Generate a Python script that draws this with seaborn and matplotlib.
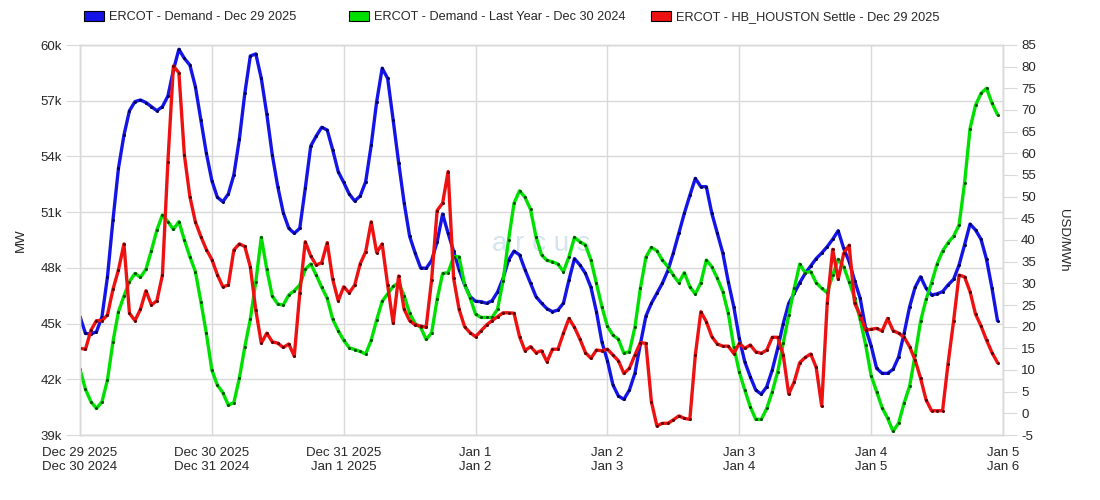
import pandas as pd
import matplotlib.pyplot as plt
from matplotlib.patches import Patch
import seaborn as sns

# hourly values, Dec 29 2025 00:00 .. Jan 4 23:00
demand_mw = [
    45.37, 44.47, 44.44, 44.56, 45.37, 47.52, 50.58, 53.36, 55.15, 56.46, 56.95, 57.04,
    56.90, 56.68, 56.46, 56.68, 57.25, 58.65, 59.77, 59.28, 58.92, 57.76, 55.96, 54.17,
    52.70, 51.80, 51.56, 51.98, 53.00, 54.92, 57.40, 59.41, 59.52, 58.20, 56.28, 54.08,
    52.37, 50.97, 50.13, 49.86, 50.13, 52.28, 54.56, 55.10, 55.57, 55.42, 54.35, 53.18,
    52.60, 51.98, 51.60, 51.87, 52.64, 54.60, 56.95, 58.75, 58.20, 55.96, 53.66, 51.50,
    49.70, 48.80, 48.00, 47.97, 48.40, 49.40, 50.90, 49.86, 48.90, 47.90, 47.10, 46.45,
    46.20, 46.18, 46.09, 46.23, 46.70, 47.43, 48.42, 48.90, 48.70, 47.90, 47.17, 46.45,
    46.10, 45.80, 45.64, 45.73, 46.10, 47.35, 48.50, 48.15, 47.70, 46.95, 45.64, 44.00,
    43.00, 41.70, 41.10, 40.92, 41.42, 42.32, 43.90, 45.40, 46.09, 46.63, 47.17, 47.85,
    48.80, 49.86, 50.94, 51.90, 52.82, 52.37, 52.37, 50.94, 49.86, 48.80, 47.25, 45.90,
    44.20, 42.94, 42.14, 41.42, 41.20, 41.60, 42.50, 43.67, 45.00, 46.09, 46.63, 47.20,
    47.70, 48.10, 48.50, 48.80, 49.14, 49.54, 50.00, 49.05, 48.33, 47.30, 46.36, 44.74,
    43.80, 42.59, 42.32, 42.32, 42.54, 43.20, 44.47, 45.90, 46.95, 47.52, 46.90, 46.54,
    46.60, 46.72, 47.08, 47.38, 48.15, 49.23, 50.36, 50.04, 49.54, 48.46, 46.90, 45.15,
]

demand_last_year_mw = [
    42.53, 41.46, 40.79, 40.43, 40.79, 41.96, 44.02, 45.64, 46.48, 47.26, 47.70, 47.49,
    47.92, 48.93, 50.04, 50.85, 50.49, 50.07, 50.49, 49.50, 48.60, 47.80, 46.18, 44.47,
    42.50, 41.69, 41.28, 40.61, 40.74, 42.05, 43.75, 45.23, 47.26, 49.64, 47.92, 46.48,
    46.05, 46.00, 46.54, 46.77, 47.08, 47.92, 48.21, 47.61, 46.95, 46.36, 45.23, 44.62,
    44.10, 43.70, 43.60, 43.50, 43.36, 44.10, 45.20, 46.20, 46.60, 47.00, 47.20, 46.50,
    45.55, 45.00, 44.80, 44.15, 44.50, 46.30, 47.70, 47.74, 48.60, 48.60, 47.10, 46.40,
    45.50, 45.33, 45.33, 45.33, 45.77, 47.30, 49.50, 51.48, 52.15, 51.80, 51.15, 49.68,
    48.70, 48.40, 48.33, 48.20, 47.80, 48.60, 49.64, 49.40, 49.23, 48.42, 47.17, 45.90,
    44.85, 44.38, 44.15, 43.40, 43.49, 44.80, 46.90, 48.57, 49.10, 48.92, 48.42, 48.06,
    47.60, 47.20, 47.74, 46.98, 46.59, 47.20, 48.42, 48.06, 47.44, 46.72, 45.55, 43.75,
    42.40, 41.42, 40.52, 39.84, 39.84, 40.43, 41.33, 42.41, 43.94, 45.46, 46.90, 48.20,
    47.74, 47.80, 47.20, 46.90, 46.66, 47.60, 48.46, 48.06, 47.25, 46.36, 45.23, 43.85,
    42.20, 41.33, 40.47, 39.90, 39.20, 39.64, 40.72, 41.62, 43.30, 45.13, 46.30, 47.20,
    48.20, 48.90, 49.35, 49.70, 50.30, 52.55, 55.50, 56.75, 57.40, 57.67, 56.87, 56.25,
]

hb_houston_usd = [
    15.0, 14.8, 19.2, 21.4, 21.4, 22.7, 28.6, 33.1, 39.1, 23.1, 21.4, 24.0,
    28.3, 25.0, 26.0, 31.9, 58.1, 80.15, 78.6, 59.6, 50.0, 44.2, 40.8, 37.8,
    35.5, 32.0, 29.2, 29.6, 37.7, 39.1, 38.5, 33.8, 23.8, 16.2, 18.5, 16.5,
    16.2, 15.2, 16.0, 13.2, 27.7, 39.6, 36.3, 34.2, 34.8, 39.4, 30.9, 26.0,
    29.2, 27.8, 29.6, 34.5, 37.3, 44.2, 37.1, 39.1, 29.6, 20.8, 31.7, 24.0,
    21.4, 20.4, 20.15, 19.85, 30.8, 46.8, 48.5, 55.8, 31.2, 24.0, 20.0, 18.6,
    17.7, 19.06, 20.4, 21.4, 22.3, 23.2, 23.2, 23.1, 17.7, 14.45, 15.4, 14.0,
    14.45, 11.9, 14.8, 14.8, 18.5, 21.9, 19.85, 17.1, 14.0, 12.7, 14.6, 14.45,
    14.8, 13.45, 12.14, 9.2, 10.4, 13.45, 16.3, 16.15, 2.7, -2.9, -2.3, -2.3,
    -1.5, -0.6, -1.15, -1.4, 13.45, 23.45, 21.15, 17.7, 16.0, 15.5, 15.5, 13.8,
    16.15, 15.0, 15.77, 14.2, 13.85, 14.6, 17.55, 17.55, 13.46, 4.45, 7.3, 11.7,
    12.9, 13.7, 10.6, 1.7, 25.4, 37.85, 30.9, 36.9, 38.8, 25.4, 22.7, 19.2,
    19.4, 19.6, 19.0, 21.9, 19.07, 18.5, 17.55, 15.4, 12.3, 8.1, 3.1, 0.6,
    0.6, 0.6, 11.5, 21.2, 31.9, 31.5, 28.1, 22.9, 20.15, 16.9, 14.0, 11.7,
]

day_labels = [
    "Dec 29 2025\nDec 30 2024", "Dec 30 2025\nDec 31 2024", "Dec 31 2025\nJan 1 2025",
    "Jan 1\nJan 2", "Jan 2\nJan 3", "Jan 3\nJan 4", "Jan 4\nJan 5", "Jan 5\nJan 6",
]
mw_ticks = [39, 42, 45, 48, 51, 54, 57, 60]
usd_ticks = list(range(-5, 90, 5))

legend_names = [
    "ERCOT - Demand - Dec 29 2025",
    "ERCOT - Demand - Last Year - Dec 30 2024",
    "ERCOT - HB_HOUSTON Settle - Dec 29 2025",
]
colors = ["#1414e6", "#00e000", "#ee1111"]
dots = ["#000060", "#005000", "#600000"]

df = pd.DataFrame({
    "time": pd.date_range("2025-12-29", periods=len(demand_mw), freq="h"),
    "demand": [v * 1000 for v in demand_mw],
    "last_year": [v * 1000 for v in demand_last_year_mw],
    "price": hb_houston_usd,
})
days = pd.date_range("2025-12-29", periods=8, freq="D")

sns.set_style("white")
plt.rcParams["font.family"] = ["Liberation Sans", "DejaVu Sans"]
plt.rcParams["axes.unicode_minus"] = False
grid_c = "#d9d9d9"
fs = 9.5

fig = plt.figure(figsize=(11, 5), dpi=100)
ax = fig.add_axes([80 / 1100, 65 / 500, 923 / 1100, 390 / 500])
ax2 = ax.twinx()

line_kw = dict(linewidth=2.4, marker="o", markersize=2.2, markeredgewidth=0, legend=False)
sns.lineplot(data=df, x="time", y="demand", ax=ax, color=colors[0],
             markerfacecolor=dots[0], **line_kw)
sns.lineplot(data=df, x="time", y="last_year", ax=ax, color=colors[1],
             markerfacecolor=dots[1], **line_kw)
sns.lineplot(data=df, x="time", y="price", ax=ax2, color=colors[2],
             markerfacecolor=dots[2], **line_kw)

# left axis
ax.set_xlim(days[0], days[-1])
ax.set_ylim(39000, 60000)
ax.set_yticks([t * 1000 for t in mw_ticks])
ax.set_yticklabels([f"{t}k" for t in mw_ticks])
ax.set_xticks(days)
ax.set_xticklabels(day_labels, linespacing=1.22)
ax.grid(True, color=grid_c, linewidth=1)
ax.set_axisbelow(True)
ax.set_xlabel("")
ax.set_ylabel("MW", fontsize=fs, labelpad=10)
ax.tick_params(axis="y", length=10, color=grid_c, labelsize=fs, pad=3)
ax.tick_params(axis="x", length=5, color=grid_c, labelsize=fs, pad=4)

# right axis
ax2.set_ylim(-5, 85)
ax2.set_yticks(usd_ticks)
ax2.set_ylabel("USD/MWh", rotation=270, fontsize=fs, labelpad=24)
ax2.tick_params(axis="y", length=10, color=grid_c, labelsize=fs, pad=3)
ax2.grid(False)

for a in (ax, ax2):
    for s in a.spines.values():
        s.set_color(grid_c)
        s.set_linewidth(1)

ax.text(0.5, 0.49, "a r c u s", transform=ax.transAxes, ha="center", va="center",
        fontsize=20, color="#d6e4ee", zorder=0)

# one legend entry per item, placed like the original header
for name, c, x0 in zip(legend_names, colors, [72, 337, 639]):
    fig.legend([Patch(facecolor=c, edgecolor="black", linewidth=0.8)], [name],
               loc="center left", bbox_to_anchor=(x0 / 1100, 0.966), frameon=False,
               fontsize=9.2, handlelength=1.6, handleheight=0.8, handletextpad=0.4)

plt.savefig("out.png", dpi=100)
